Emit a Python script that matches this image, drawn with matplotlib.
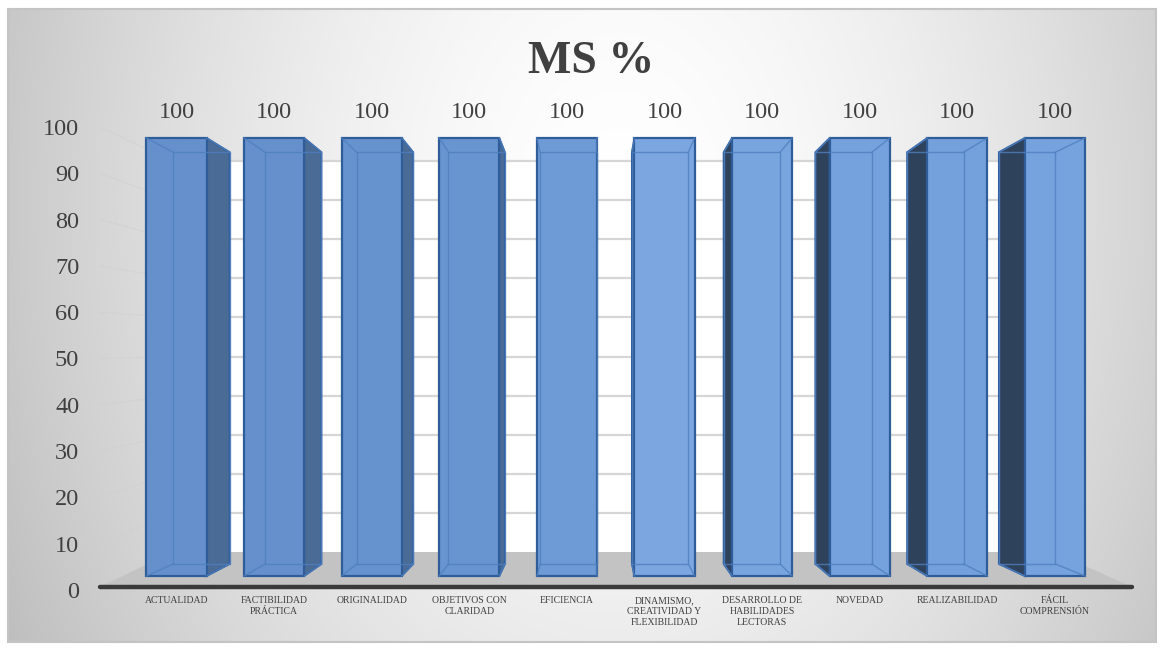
import numpy as np
import matplotlib
matplotlib.use("Agg")
import matplotlib.pyplot as plt
from matplotlib.patches import Polygon, Rectangle

# ---------------- data ----------------
categories = ["ACTUALIDAD", "FACTIBILIDAD\nPRÁCTICA", "ORIGINALIDAD",
              "OBJETIVOS CON\nCLARIDAD", "EFICIENCIA",
              "DINAMISMO,\nCREATIVIDAD Y\nFLEXIBILIDAD",
              "DESARROLLO DE\nHABILIDADES\nLECTORAS", "NOVEDAD",
              "REALIZABILIDAD", "FÁCIL\nCOMPRENSIÓN"]
values = [100, 100, 100, 100, 100, 100, 100, 100, 100, 100]
yticks = [0, 10, 20, 30, 40, 50, 60, 70, 80, 90, 100]
title = "MS %"

# ---------------- layout / style ----------------
W, H = 1164, 650
FONT = ["Liberation Serif", "DejaVu Serif"]
TXT = "#404040"
X0, DX = 176.5, 97.6        # pixel of category 0, pixels per category
Y0, PY = 576.0, 4.38        # pixel of value 0 (front plane), pixels per unit
LY0, LPY = 590.0, 4.63      # label scale on the side wall
FL, FR, FT, FB = 8, 1156, 9, 642   # chart frame in pixels
S = 0.94                    # depth scale of the bars
VXP, VYP = 592.0, 375.0     # vanishing point (pixels)
BW = 0.615                  # bar width (category units)

front_cols = ["#6590cb", "#6590cb", "#6692cd", "#6894cf", "#6e9ad5",
              "#7ba6e0", "#79a5df", "#75a1dc", "#74a0db", "#76a2dd"]
right_side = "#4a6b96"
left_side = "#2f425c"
edge = "#2f5d99"
inner = "#4f7fbf"

fig = plt.figure(figsize=(W / 100, H / 100), dpi=100)
fig.patch.set_facecolor("white")

# ---- background axes in pixel coordinates ----
bg = fig.add_axes([0, 0, 1, 1], zorder=0)
bg.set_xlim(0, W)
bg.set_ylim(H, 0)
bg.axis("off")

gx = np.linspace(FL, FR, 400)
gy = np.linspace(FT, FB, 240)
GX, GY = np.meshgrid(gx, gy)
d = np.sqrt(((GX - 620) / 650) ** 2 + ((GY - 200) / 900) ** 2)
g = 1 - 0.23 * np.clip(d, 0, 1.4) ** 1.6
bg.imshow(np.dstack([g, g, g]), extent=(FL, FR, FB, FT), aspect="auto",
          interpolation="bilinear", zorder=0)
bg.add_patch(Rectangle((FL, FT), FR - FL, FB - FT, fill=False,
                       edgecolor="#c4c4c4", lw=1.5, zorder=1))

# back wall
WL, WR, WB, WT = 172, 1054, 552, 161
bg.add_patch(Rectangle((WL, WT), WR - WL, WB - WT, facecolor="white",
                       edgecolor="none", zorder=1))
for v in yticks[1:]:
    yw = WB - (WB - WT) * v / 100
    bg.plot([WL, WR], [yw, yw], color="#d6d6d6", lw=1.6, zorder=2)
    yl = LY0 - LPY * v
    bg.plot([100, WL], [yl, yw], color="#d0d0d0", lw=1, ls=(0, (1, 1)),
            zorder=2)

# floor
bg.add_patch(Polygon([(100, 587), (1132, 587), (WR, WB), (WL, WB)],
                     closed=True, facecolor="#c3c3c3", edgecolor="none",
                     zorder=2))
bg.plot([100, 1132], [587, 587], color="#3a3a3a", lw=3.2,
        solid_capstyle="round", zorder=3)

# title
bg.text(591, 62, title, ha="center", va="center", fontsize=33,
        fontweight="bold", color=TXT, family=FONT, zorder=5)

# ---- bar axes (category / value) ----
ax = fig.add_axes([FL / W, 1 - FB / H, (FR - FL) / W, (FB - FT) / H],
                  zorder=1)
ax.set_xlim((FL - X0) / DX, (FR - X0) / DX)
ax.set_ylim(-(FB - Y0) / PY, (Y0 - FT) / PY)
ax.patch.set_alpha(0)
ax.axis("off")

VX = (VXP - X0) / DX
VY = (Y0 - VYP) / PY


def proj(x, y):
    return VX + S * (x - VX), VY + S * (y - VY)


ax.bar(range(len(values)), values, width=BW, color=front_cols,
       edgecolor=edge, linewidth=1.6, zorder=3)

for i, v in enumerate(values):
    L, R, B, T = i - BW / 2, i + BW / 2, 0, v
    bl = proj(L, B); br = proj(R, B); tl = proj(L, T); tr = proj(R, T)
    if br[0] > R + 0.005:
        poly = [(R, T), tr, br, (R, B)]
        ax.add_patch(Polygon(poly, closed=True, facecolor=right_side,
                             edgecolor=edge, lw=1.4, zorder=2))
    elif bl[0] < L - 0.005:
        poly = [(L, T), tl, bl, (L, B)]
        ax.add_patch(Polygon(poly, closed=True, facecolor=left_side,
                             edgecolor=edge, lw=1.4, zorder=2))
    # hidden (back) edges visible through the translucent bar
    ax.plot([bl[0], br[0], tr[0], tl[0], bl[0]],
            [bl[1], br[1], tr[1], tl[1], bl[1]],
            color=inner, lw=1.0, alpha=0.8, zorder=4)
    for (fx, fy), (bx, by) in [((L, B), bl), ((R, B), br),
                               ((L, T), tl), ((R, T), tr)]:
        ax.plot([fx, bx], [fy, by], color=inner, lw=1.0, alpha=0.8,
                zorder=4)
    ax.annotate(f"{v}", (i, v), xytext=(0, 18), textcoords="offset points",
                ha="center", va="center", fontsize=17.5, color=TXT,
                family=FONT, zorder=6)
    ax.annotate(categories[i], (i, 0), xytext=(0, -14.5),
                textcoords="offset points", ha="center", va="top",
                fontsize=7, color=TXT, family=FONT, linespacing=1.25,
                multialignment="center", zorder=6)

# ---- value-axis labels on the side wall ----
axl = fig.add_axes([82 / W, 1 - FB / H, (FR - 82) / W, (FB - FT) / H],
                   zorder=2)
axl.set_ylim(-(FB - LY0) / LPY, (LY0 - FT) / LPY)
axl.patch.set_alpha(0)
for sp in axl.spines.values():
    sp.set_visible(False)
axl.set_xticks([])
axl.set_yticks(yticks)
axl.set_yticklabels([str(t) for t in yticks], fontsize=17.5, color=TXT,
                    family=FONT)
axl.tick_params(axis="y", length=0, pad=2)

fig.savefig("out.png", dpi=100)
